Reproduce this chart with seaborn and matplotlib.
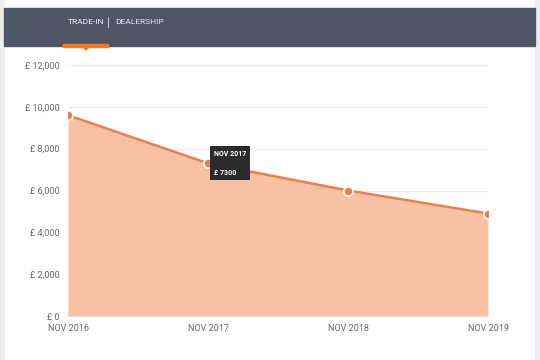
import matplotlib
matplotlib.use("Agg")
import matplotlib.pyplot as plt
from matplotlib.patches import Rectangle, Polygon
import seaborn as sns
import pandas as pd

# data
years = ["NOV 2016", "NOV 2017", "NOV 2018", "NOV 2019"]
values = [9600, 7300, 6000, 4900]
y_ticks = [0, 2000, 4000, 6000, 8000, 10000, 12000]
y_labels = ["£ 0", "£ 2,000", "£ 4,000", "£ 6,000", "£ 8,000", "£ 10,000", "£ 12,000"]

df = pd.DataFrame({"pos": range(len(years)), "value": values})

sns.set_style("white")
plt.rcParams["font.family"] = ["Roboto", "DejaVu Sans"]

fig = plt.figure(figsize=(5.4, 3.6), dpi=100)
W, H = 540, 360

def fx(px):
    return px / W

def fy(py):
    return 1 - py / H

# page background strips and header
fig.patches.append(Rectangle((0, 0), fx(4), 1, transform=fig.transFigure, color="#eceef2", zorder=0))
fig.patches.append(Rectangle((fx(535), 0), fx(5), 1, transform=fig.transFigure, color="#eceef2", zorder=0))
fig.patches.append(Rectangle((fx(4), fy(46)), fx(531), fy(8) - fy(46), transform=fig.transFigure,
                             color="#4f5666", zorder=1))
fig.patches.append(Rectangle((fx(63), fy(47)), fx(45), fy(44) - fy(47), transform=fig.transFigure,
                             color="#f07c22", zorder=2))
fig.patches.append(Polygon([(fx(83), fy(47)), (fx(89), fy(47)), (fx(86), fy(50))], closed=True,
                           transform=fig.transFigure, color="#f07c22", zorder=2))
fig.text(fx(68), fy(22), "TRADE-IN", color="#f2f3f5", fontsize=6, va="center", ha="left")
fig.text(fx(108.5), fy(22), "|", color="#d8dbe0", fontsize=8.5, va="center", ha="center")
fig.text(fx(115), fy(22), "DEALERSHIP", color="#e6e8ec", fontsize=6, va="center", ha="left")

ax = fig.add_axes([fx(68), fy(316), fx(420), (316 - 65) / H])
ax.set_facecolor("none")

ax.fill_between(df["pos"], df["value"], 0, color="#f8c1a5", zorder=1, linewidth=0)
sns.lineplot(data=df, x="pos", y="value", ax=ax, color="#e8804f", linewidth=1.8, zorder=3)
sns.scatterplot(data=df, x="pos", y="value", ax=ax, color="#e8804f", s=45,
                edgecolor="white", linewidth=1.2, zorder=4)

ax.set_xlim(0, 3)
ax.set_ylim(0, 12000)
ax.set_yticks(y_ticks)
ax.set_yticklabels(y_labels)
ax.set_xticks(range(len(years)))
ax.set_xticklabels(years)
ax.set_xlabel("")
ax.set_ylabel("")
ax.grid(axis="y", color="#ececec", linewidth=0.8, zorder=0)
ax.set_axisbelow(True)
for s in ["top", "right", "left"]:
    ax.spines[s].set_visible(False)
ax.spines["bottom"].set_color("#dddddd")
ax.tick_params(axis="y", length=5, color="#dddddd", labelsize=6.5, labelcolor="#666666", pad=1)
ax.tick_params(axis="x", length=0, labelsize=6.5, labelcolor="#666666", pad=6)

# tooltip at NOV 2017
ax.annotate("NOV 2017\n\n£ 7300", xy=(1, values[1]), xytext=(4, 0), textcoords="offset points",
            fontsize=5, color="white", fontweight="bold", va="center", ha="left",
            bbox=dict(boxstyle="square,pad=0.55", fc="#2b2b2b", ec="none"), zorder=6)

fig.savefig("out.png", dpi=100)
